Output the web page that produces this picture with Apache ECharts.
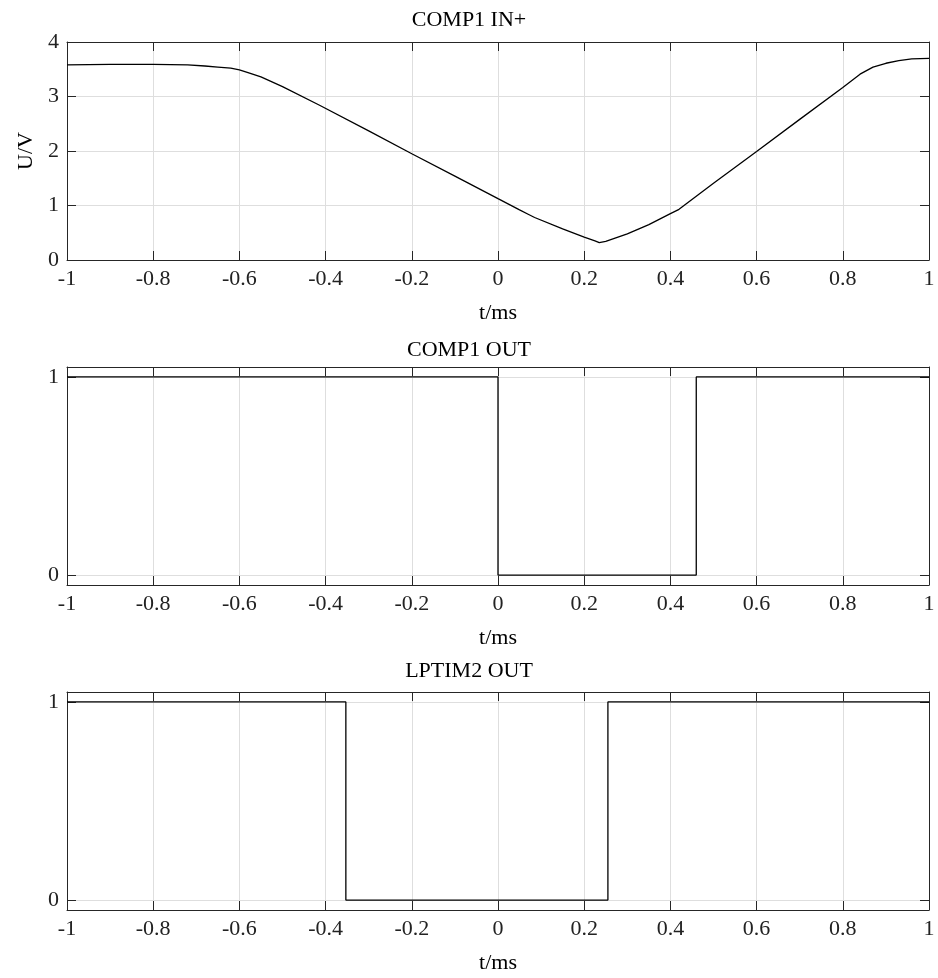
<!DOCTYPE html>
<html>
<head>
<meta charset="utf-8">
<script src="https://cdn.jsdelivr.net/npm/echarts@6/dist/echarts.min.js"></script>
<style>
html, body { margin: 0; padding: 0; background: #fff; }
#main { width: 938px; height: 978px; }
</style>
</head>
<body>
<div id="main"></div>
<script>
// COMP1 IN+ (t in ms, U in V)
var inT = [-1, -0.9, -0.8, -0.72, -0.68, -0.65, -0.62, -0.6, -0.58, -0.55, -0.5, -0.414, -0.3, -0.2, -0.1, 0,
	0.05, 0.07, 0.085, 0.15, 0.2, 0.225, 0.235, 0.25, 0.3, 0.35, 0.4, 0.42, 0.5, 0.6, 0.7, 0.8, 0.84, 0.87, 0.9, 0.93, 0.96, 1];
var inU = [3.58, 3.59, 3.59, 3.58, 3.56, 3.54, 3.52, 3.49, 3.44, 3.36, 3.18, 2.84, 2.37, 1.95, 1.54, 1.125,
	0.92, 0.84, 0.78, 0.57, 0.42, 0.35, 0.32, 0.34, 0.48, 0.65, 0.85, 0.93, 1.41, 1.99, 2.58, 3.165, 3.41, 3.54, 3.61, 3.66, 3.69, 3.70];

// COMP1 OUT
var compT = [-1, 0, 0, 0.46, 0.46, 1];
var compV = [1, 1, 0, 0, 1, 1];

// LPTIM2 OUT
var lptT = [-1, -0.353, -0.353, 0.255, 0.255, 1];
var lptV = [1, 1, 0, 0, 1, 1];

var xTicks = { min: -1, max: 1, interval: 0.2 };
var titles = ['COMP1 IN+', 'COMP1 OUT', 'LPTIM2 OUT'];

function pairs(xs, ys) {
	var out = [];
	for (var i = 0; i < xs.length; i++) out.push([xs[i], ys[i]]);
	return out;
}

var FONT = '"Liberation Serif", "DejaVu Serif", serif';
var AXIS_COLOR = '#262626';
var GRID_COLOR = '#dedede';
var FS = 22;

var grids = [
	{ left: 67, right: 9, top: 42, height: 218 },
	{ left: 67, right: 9, top: 367, height: 218 },
	{ left: 67, right: 9, top: 692, height: 218 }
];
var titleTops = [4, 334, 655];

var xAxes = [], yAxes = [];
grids.forEach(function (g, i) {
	// 下方主x轴
	xAxes.push({
		type: 'value', gridIndex: i, position: 'bottom',
		min: xTicks.min, max: xTicks.max, interval: xTicks.interval,
		name: 't/ms', nameLocation: 'middle', nameGap: 42,
		nameTextStyle: { fontFamily: FONT, fontSize: FS, color: '#000' },
		axisLine: { show: true, onZero: false, lineStyle: { color: AXIS_COLOR, width: 1 } },
		axisTick: { show: true, inside: true, length: 9, lineStyle: { color: AXIS_COLOR } },
		axisLabel: { fontFamily: FONT, fontSize: FS, color: '#222', margin: 8 },
		splitLine: { show: true, lineStyle: { color: GRID_COLOR, width: 1 } }
	});
	// 上方镜像x轴(只画边框和刻度)
	xAxes.push({
		type: 'value', gridIndex: i, position: 'top',
		min: xTicks.min, max: xTicks.max, interval: xTicks.interval,
		axisLine: { show: true, onZero: false, lineStyle: { color: AXIS_COLOR, width: 1 } },
		axisTick: { show: true, inside: true, length: 9, lineStyle: { color: AXIS_COLOR } },
		axisLabel: { show: false },
		splitLine: { show: false }
	});
});

var yMain = [
	{ min: 0, max: 4, interval: 1 },
	{ min: -0.05, max: 1.05, customValues: [0, 1] },
	{ min: -0.05, max: 1.05, customValues: [0, 1] }
];
grids.forEach(function (g, i) {
	var y = yMain[i];
	var left = {
		type: 'value', gridIndex: i, position: 'left',
		min: y.min, max: y.max,
		axisLine: { show: true, onZero: false, lineStyle: { color: AXIS_COLOR, width: 1 } },
		axisTick: { show: true, inside: true, length: 9, lineStyle: { color: AXIS_COLOR } },
		axisLabel: { fontFamily: FONT, fontSize: FS, color: '#222', margin: 8 },
		splitLine: { show: true, lineStyle: { color: GRID_COLOR, width: 1 } }
	};
	var right = {
		type: 'value', gridIndex: i, position: 'right',
		min: y.min, max: y.max,
		axisLine: { show: true, onZero: false, lineStyle: { color: AXIS_COLOR, width: 1 } },
		axisTick: { show: true, inside: true, length: 9, lineStyle: { color: AXIS_COLOR } },
		axisLabel: { show: false },
		splitLine: { show: false }
	};
	if (y.interval) {
		left.interval = y.interval;
		right.interval = y.interval;
	} else {
		left.axisTick.customValues = y.customValues;
		left.axisLabel.customValues = y.customValues;
		right.axisTick.customValues = y.customValues;
		right.axisLabel.customValues = y.customValues;
	}
	if (i === 0) {
		left.name = 'U/V';
		left.nameLocation = 'middle';
		left.nameGap = 30;
		left.nameTextStyle = { fontFamily: FONT, fontSize: FS, color: '#000' };
	}
	yAxes.push(left);
	yAxes.push(right);
});

var chart = echarts.init(document.getElementById('main'));
chart.setOption({
	animation: false,
	backgroundColor: '#fff',
	title: titles.map(function (t, i) {
		return {
			text: t, left: 'center', top: titleTops[i],
			textStyle: { fontFamily: FONT, fontSize: FS, fontWeight: 'normal', color: '#000' }
		};
	}),
	grid: grids,
	xAxis: xAxes,
	yAxis: yAxes,
	series: [
		{
			type: 'line', xAxisIndex: 0, yAxisIndex: 0, showSymbol: false,
			data: pairs(inT, inU), lineStyle: { color: '#000', width: 1.3 }
		},
		{
			type: 'line', xAxisIndex: 2, yAxisIndex: 2, showSymbol: false,
			data: pairs(compT, compV), lineStyle: { color: '#000', width: 1.3 }
		},
		{
			type: 'line', xAxisIndex: 4, yAxisIndex: 4, showSymbol: false,
			data: pairs(lptT, lptV), lineStyle: { color: '#000', width: 1.3 }
		}
	]
});
</script>
</body>
</html>
